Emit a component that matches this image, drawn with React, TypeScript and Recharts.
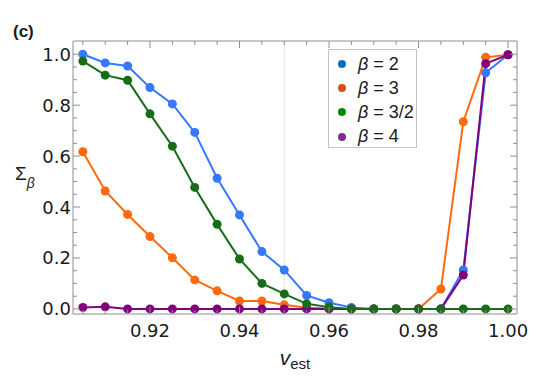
import { LineChart, Line, XAxis, YAxis, ReferenceLine, Legend, Label } from 'recharts';

// v_est sample points
const vEst = [
  0.905, 0.91, 0.915, 0.92, 0.925, 0.93, 0.935, 0.94, 0.945, 0.95,
  0.955, 0.96, 0.965, 0.97, 0.975, 0.98, 0.985, 0.99, 0.995, 1.0,
];

// Sigma_beta for each beta
const sigmaB2 = [1.0, 0.966, 0.954, 0.869, 0.805, 0.693, 0.513, 0.369, 0.225, 0.153, 0.053, 0.024, 0.006, 0, 0, 0, 0, 0.153, 0.927, 0.998];
const sigmaB3 = [0.617, 0.463, 0.371, 0.284, 0.201, 0.114, 0.071, 0.031, 0.031, 0.016, 0.005, 0.002, 0, 0, 0, 0, 0.078, 0.735, 0.988, 0.998];
const sigmaB32 = [0.973, 0.918, 0.898, 0.766, 0.639, 0.477, 0.332, 0.196, 0.1, 0.059, 0.02, 0.007, 0, 0, 0, 0, 0, 0, 0, 0];
const sigmaB4 = [0.006, 0.008, 0, 0, 0, 0, 0, 0, 0, 0, 0, 0, 0, 0, 0, 0, 0, 0.133, 0.963, 0.998];

const xTicks = vEst;
const xLabels = [0.92, 0.94, 0.96, 0.98, 1.0];
const yTicks = [0, 0.05, 0.1, 0.15, 0.2, 0.25, 0.3, 0.35, 0.4, 0.45, 0.5, 0.55, 0.6, 0.65, 0.7, 0.75, 0.8, 0.85, 0.9, 0.95, 1.0];
const yLabels = [0, 0.2, 0.4, 0.6, 0.8, 1.0];

const legendItems = [
  { label: '2', color: '#0072bd' },
  { label: '3', color: '#d95319' },
  { label: '3/2', color: '#008a00' },
  { label: '4', color: '#7e2f8e' },
];

const data = vEst.map((v, i) => ({
  v,
  b2: sigmaB2[i],
  b3: sigmaB3[i],
  b32: sigmaB32[i],
  b4: sigmaB4[i],
}));

const FONT = '"Liberation Sans", Arial, sans-serif';
const TICK_FONT = '"DejaVu Sans", sans-serif';
const FRAME = '#8f8f8f';
const INK = '#1a1a1a';

const isIn = (list: number[], v: number) => list.some((t) => Math.abs(t - v) < 1e-9);

function XTick(props: any) {
  const { x, y, payload, top } = props;
  const major = isIn(xLabels, payload.value);
  const len = major ? 7 : 4;
  const d = top ? 1 : -1;
  return (
    <g>
      <line x1={x} x2={x} y1={y} y2={y + d * len} stroke={FRAME} />
      {!top && major && (
        <text x={x} y={y + 23} textAnchor="middle" fontSize={18} fontFamily={TICK_FONT} fill={INK}>
          {payload.value.toFixed(2)}
        </text>
      )}
    </g>
  );
}

function YTick(props: any) {
  const { x, y, payload, right } = props;
  const major = isIn(yLabels, payload.value);
  const len = major ? 7 : 4;
  const d = right ? -1 : 1;
  return (
    <g>
      <line x1={x} x2={x + d * len} y1={y} y2={y} stroke={FRAME} />
      {!right && major && (
        <text x={x - 2} y={y + 6.5} textAnchor="end" fontSize={18} fontFamily={TICK_FONT} fill={INK}>
          {payload.value.toFixed(1)}
        </text>
      )}
    </g>
  );
}

function LegendBox() {
  return (
    <div
      style={{
        width: 89,
        height: 99,
        border: '1px solid #c4c4c4',
        boxSizing: 'border-box',
        background: '#fff',
        paddingTop: 2,
        fontFamily: FONT,
        color: INK,
      }}
    >
      {legendItems.map((it) => (
        <div key={it.label} style={{ display: 'flex', alignItems: 'center', height: 24.2 }}>
          <span style={{ width: 8, height: 8, borderRadius: 4, background: it.color, marginLeft: 9 }} />
          <span style={{ marginLeft: 12, fontSize: 18, whiteSpace: 'nowrap' }}>
            <i>β</i> = {it.label}
          </span>
        </div>
      ))}
    </div>
  );
}

const dot = (c: string) => ({ r: 4.5, fill: c, stroke: c, strokeWidth: 0 });

export default function App() {
  return (
    <div style={{ position: 'absolute', left: 0, top: 0, width: 538, height: 376, background: '#fff' }}>
      <LineChart width={538} height={376} data={data} margin={{ top: 0, right: 0, bottom: 0, left: 0 }}>
        <XAxis
          xAxisId="b"
          dataKey="v"
          type="number"
          domain={[0.9028, 1.002]}
          allowDataOverflow
          ticks={xTicks}
          interval={0}
          height={62}
          tickSize={0}
          tickMargin={0}
          tickLine={false}
          axisLine={{ stroke: FRAME }}
          tick={(p: any) => <XTick {...p} />}
        >
          <Label
            content={(p: any) => {
              const vb = p.viewBox;
              return (
                <text x={vb.x + vb.width / 2} y={vb.y + 51} textAnchor="middle" fontFamily={FONT} fill={INK}>
                  <tspan fontSize={21} fontStyle="italic">v</tspan>
                  <tspan fontSize={15} dy={4}>est</tspan>
                </text>
              );
            }}
          />
        </XAxis>
        <XAxis
          xAxisId="t"
          dataKey="v"
          type="number"
          orientation="top"
          domain={[0.9028, 1.002]}
          allowDataOverflow
          ticks={xTicks}
          interval={0}
          height={41}
          tickSize={0}
          tickMargin={0}
          tickLine={false}
          axisLine={{ stroke: FRAME }}
          tick={(p: any) => <XTick {...p} top />}
        />
        <YAxis
          yAxisId="l"
          type="number"
          domain={[-0.02, 1.052]}
          allowDataOverflow
          ticks={yTicks}
          interval={0}
          width={73}
          tickSize={0}
          tickMargin={0}
          tickLine={false}
          axisLine={{ stroke: FRAME }}
          tick={(p: any) => <YTick {...p} />}
        >
          <Label
            content={(p: any) => {
              const vb = p.viewBox;
              const cy = vb.y + vb.height / 2;
              return (
                <g fontFamily={FONT} fill={INK}>
                  <text x={13} y={37} fontSize={17} fontWeight="bold">(c)</text>
                  <text x={vb.x + 15} y={cy + 2.5}>
                    <tspan fontSize={19}>Σ</tspan>
                    <tspan fontSize={14} fontStyle="italic" dy={8}>β</tspan>
                  </text>
                </g>
              );
            }}
          />
        </YAxis>
        <YAxis
          yAxisId="r"
          orientation="right"
          type="number"
          domain={[-0.02, 1.052]}
          allowDataOverflow
          ticks={yTicks}
          interval={0}
          width={21}
          tickSize={0}
          tickMargin={0}
          tickLine={false}
          axisLine={{ stroke: FRAME }}
          tick={(p: any) => <YTick {...p} right />}
        />
        <ReferenceLine xAxisId="b" yAxisId="l" x={0.95} stroke="#e2e2e2" />
        <Line xAxisId="b" yAxisId="l" dataKey="b2" stroke="#3378ff" strokeWidth={2} dot={dot('#3378ff')} isAnimationActive={false} />
        <Line xAxisId="b" yAxisId="l" dataKey="b3" stroke="#ff6a0e" strokeWidth={2} dot={dot('#ff6a0e')} isAnimationActive={false} />
        <Line xAxisId="b" yAxisId="l" dataKey="b4" stroke="#800080" strokeWidth={2} dot={dot('#800080')} isAnimationActive={false} />
        <Line xAxisId="b" yAxisId="l" dataKey="b32" stroke="#186d18" strokeWidth={2} dot={dot('#186d18')} isAnimationActive={false} />
        <Legend
          layout="vertical"
          align="center"
          verticalAlign="middle"
          wrapperStyle={{ left: 328, top: 49, width: 'auto' }}
          content={() => <LegendBox />}
        />
      </LineChart>
    </div>
  );
}
